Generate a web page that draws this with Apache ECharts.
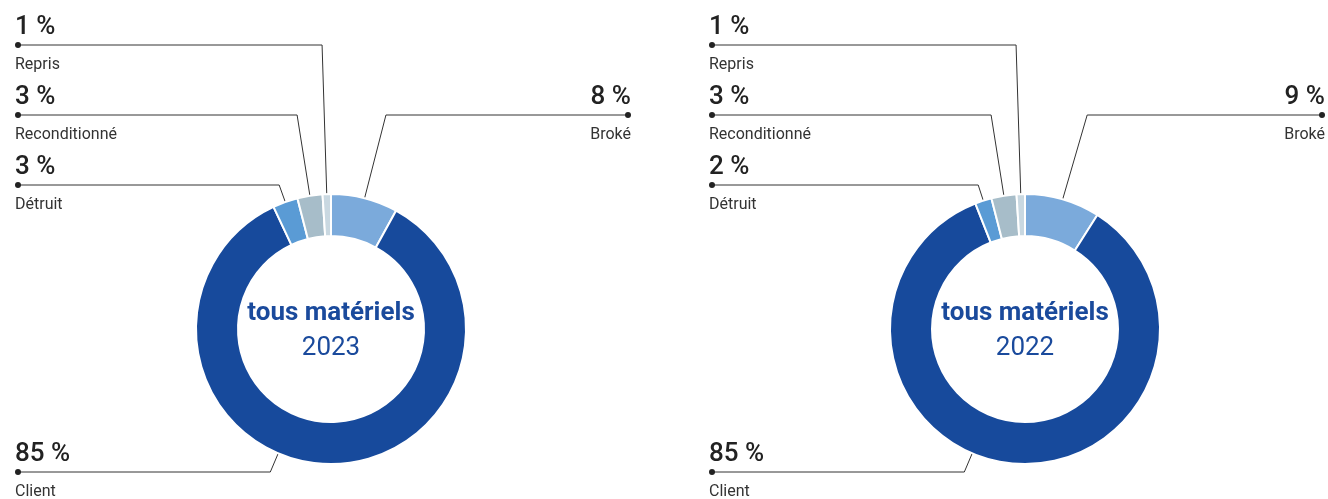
<!DOCTYPE html>
<html>
<head>
<meta charset="utf-8">
<script src="https://cdn.jsdelivr.net/npm/echarts@6/dist/echarts.min.js"></script>
<style>
  html, body { margin: 0; padding: 0; background: #ffffff; }
  #chart { width: 1328px; height: 499px; }
</style>
</head>
<body>
<div id="chart"></div>
<script>
// données
var categories = ['Broké', 'Client', 'Détruit', 'Reconditionné', 'Repris'];
var values2023 = [8, 85, 3, 3, 1];
var values2022 = [9, 85, 2, 3, 1];
var years = ['2023', '2022'];
var colors = ['#7baadb', '#174a9c', '#5a9bd5', '#a7bdc9', '#c9d8e1'];

// mise en page
var centers = [[331, 329], [1025, 329]];
var labelLineY = [115, 472, 185, 115, 45];   // hauteur du trait pour chaque catégorie
var leftX = [15, 709];
var rightX = [631, 1325];
var clientAnchorDeg = 203; // le trait de "Client" part en bas à gauche de l'anneau

var myChart = echarts.init(document.getElementById('chart'));

function fmt(p) {
    return '{p|' + p.value + ' %}\n{d| }\n{n|' + p.name + '}';
}

function layoutLabel(params) {
    var s = params.seriesIndex, i = params.dataIndex;
    var c = centers[s];
    var p0 = params.labelLinePoints ? params.labelLinePoints[0].slice() : [c[0], c[1] - 135];
    var dx = p0[0] - c[0], dy = p0[1] - c[1];
    var r = Math.sqrt(dx * dx + dy * dy);
    if (categories[i] === 'Client') {
        var a = clientAnchorDeg * Math.PI / 180;
        p0 = [c[0] + r * Math.sin(a), c[1] - r * Math.cos(a)];
        dx = p0[0] - c[0]; dy = p0[1] - c[1];
    }
    var ux = dx / r, uy = dy / r;
    var ly = labelLineY[i];
    var t = (ly - p0[1]) / uy;
    var elbow = [p0[0] + ux * t, ly];
    var right = (i === 0);
    var x = right ? rightX[s] : leftX[s];
    var dotX = right ? x - 3 : x + 3;
    return {
        x: x,
        y: ly - 33,
        align: right ? 'right' : 'left',
        verticalAlign: 'top',
        labelLinePoints: [p0, elbow, [dotX, ly]]
    };
}

function makeSeries(vals, idx) {
    return {
        type: 'pie',
        center: centers[idx],
        radius: [93, 135],
        startAngle: 90,
        clockwise: true,
        avoidLabelOverlap: false,
        silent: true,
        itemStyle: { borderColor: '#ffffff', borderWidth: 2 },
        label: {
            show: true,
            position: 'outside',
            formatter: fmt,
            fontFamily: 'Roboto',
            rich: {
                p: { fontSize: 26, fontWeight: 500, color: '#222222', lineHeight: 30, fontFamily: 'Roboto' },
                d: { width: 6, height: 6, lineHeight: 6, fontSize: 1, backgroundColor: '#222222', borderRadius: 3 },
                n: { fontSize: 16, color: '#333333', lineHeight: 34, fontFamily: 'Roboto' }
            }
        },
        labelLine: { show: true, lineStyle: { color: '#333333', width: 1 } },
        labelLayout: layoutLabel,
        data: categories.map(function (name, k) {
            return { name: name, value: vals[k], itemStyle: { color: colors[k] } };
        })
    };
}

myChart.setOption({
    animation: false,
    title: years.map(function (y, idx) {
        return {
            text: '{a|tous matériels}\n{b|' + y + '}',
            left: centers[idx][0],
            top: 296,
            textAlign: 'center',
            padding: 0,
            textStyle: {
                rich: {
                    a: { fontSize: 26, fontWeight: 'bold', color: '#1a4a9c', lineHeight: 35, fontFamily: 'Roboto' },
                    b: { fontSize: 26, fontWeight: 'normal', color: '#1a4a9c', lineHeight: 35, fontFamily: 'Roboto' }
                }
            }
        };
    }),
    series: [makeSeries(values2023, 0), makeSeries(values2022, 1)]
});
</script>
</body>
</html>
